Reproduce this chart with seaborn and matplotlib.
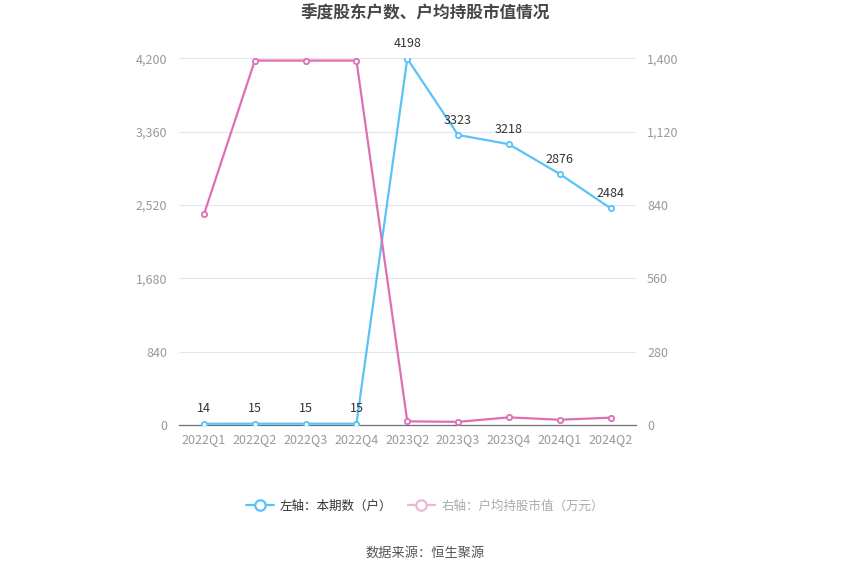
import matplotlib
matplotlib.use("Agg")
import matplotlib.pyplot as plt
from matplotlib.lines import Line2D
import seaborn as sns
import pandas as pd

quarters = ["2022Q1", "2022Q2", "2022Q3", "2022Q4", "2023Q2", "2023Q3", "2023Q4", "2024Q1", "2024Q2"]
holders = [14, 15, 15, 15, 4198, 3323, 3218, 2876, 2484]
avg_value = [805, 1392, 1392, 1392, 14, 12, 29, 20, 28]
left_ticks = [0, 840, 1680, 2520, 3360, 4200]
right_ticks = [0, 280, 560, 840, 1120, 1400]

sns.set_theme(style="white")
plt.rcParams['font.family'] = ['Noto Sans CJK SC', 'DejaVu Sans']

df = pd.DataFrame({"q": quarters, "holders": holders, "avg": avg_value})

BLUE = "#5bc2f7"
PINK = "#dd6fb5"

fig = plt.figure(figsize=(8.5, 5.75), dpi=100)
ax = fig.add_axes([0.2101, 0.2609, 0.5381, 0.6374])
ax2 = ax.twinx()

sns.lineplot(data=df, x="q", y="holders", ax=ax, color=BLUE, linewidth=1.6,
             marker="o", markersize=3.8, markerfacecolor="white",
             markeredgecolor=BLUE, markeredgewidth=1.3, sort=False, zorder=3)
sns.lineplot(data=df, x="q", y="avg", ax=ax2, color=PINK, linewidth=1.6,
             marker="o", markersize=3.8, markerfacecolor="white",
             markeredgecolor=PINK, markeredgewidth=1.3, sort=False, zorder=3)

ax.set_xlim(-0.5, len(quarters) - 0.5)
ax.set_ylim(0, 4200)
ax2.set_ylim(0, 1400)
ax.set_yticks(left_ticks)
ax2.set_yticks(right_ticks)
ax.set_yticklabels([f"{v:,}" for v in left_ticks])
ax2.set_yticklabels([f"{v:,}" for v in right_ticks])
ax.set_xlabel("")
ax.set_ylabel("")
ax2.set_ylabel("")

ax.grid(axis="y", color="#e0e6f1", linewidth=0.8)
ax.set_axisbelow(True)
for a in (ax, ax2):
    for s in ["top", "left", "right"]:
        a.spines[s].set_visible(False)
    a.spines["bottom"].set_visible(False)
ax.spines["bottom"].set_visible(True)
ax.spines["bottom"].set_color("#6e7079")
ax.spines["bottom"].set_linewidth(0.9)

ax.tick_params(axis="x", colors="#6e7079", length=5, width=0.9, labelsize=9, pad=1,
               labelcolor="#999999")
ax.tick_params(axis="y", length=0, labelsize=9, labelcolor="#999999", pad=8)
ax2.tick_params(axis="y", length=0, labelsize=9, labelcolor="#999999", pad=8)

for i, v in enumerate(holders):
    ax.annotate(str(v), (i, v), xytext=(0, 6), textcoords="offset points",
                ha="center", va="bottom", fontsize=9, color="#333333")

fig.text(0.5, 0.977, "季度股东户数、户均持股市值情况", ha="center", va="center",
         fontsize=12, fontweight="bold", color="#464646")

handles = [
    Line2D([0], [0], color=BLUE, linewidth=1.6, marker="o", markersize=7.5,
           markerfacecolor="white", markeredgecolor=BLUE, markeredgewidth=1.6),
    Line2D([0], [0], color="#f1b4d9", linewidth=1.6, marker="o", markersize=7.5,
           markerfacecolor="white", markeredgecolor="#f1b4d9", markeredgewidth=1.6),
]
leg = fig.legend(handles, ["左轴：本期数（户）", "右轴：户均持股市值（万元）"],
                 loc="center", bbox_to_anchor=(0.5, 0.12), ncol=2, frameon=False,
                 fontsize=9, handlelength=2.2, columnspacing=1.2, handletextpad=0.5)
leg.get_texts()[0].set_color("#333333")
leg.get_texts()[1].set_color("#aaaaaa")

fig.text(0.5, 0.038, "数据来源：恒生聚源", ha="center", va="center", fontsize=9.5, color="#555555")

fig.savefig("out.png", dpi=100)
